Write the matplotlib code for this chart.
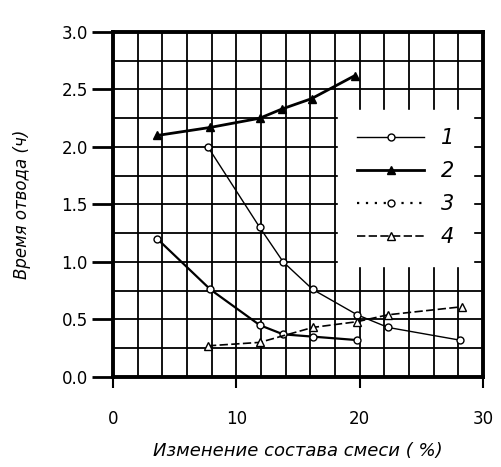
import numpy as np
import matplotlib.pyplot as plt
from matplotlib.ticker import MultipleLocator, FormatStrFormatter

# данные
x1 = [7.7, 11.9, 13.8, 16.2, 19.8, 22.3, 28.1]
y1 = [2.00, 1.30, 1.00, 0.76, 0.54, 0.43, 0.32]

x2 = [3.6, 7.9, 11.9, 13.7, 16.1, 19.6]
y2 = [2.10, 2.17, 2.25, 2.33, 2.42, 2.62]

x3 = [3.6, 7.9, 11.9, 13.8, 16.2, 19.8]
y3 = [1.20, 0.76, 0.45, 0.37, 0.35, 0.32]

x4 = [7.7, 11.9, 16.2, 19.8, 22.3, 28.3]
y4 = [0.27, 0.30, 0.43, 0.48, 0.54, 0.61]

labels = ["1", "2", "3", "4"]

fig = plt.figure(figsize=(5.01, 4.67), dpi=100)
ax = fig.add_axes([0.2255, 0.193, 0.7385, 0.7385])

ax.plot(x1, y1, color="black", lw=1.0, marker="o", ms=5, mfc="white", mec="black", label=labels[0])
ax.plot(x2, y2, color="black", lw=2.0, marker="^", ms=6, mfc="black", mec="black", label=labels[1])
# на скане линия 3 выглядит сплошной, в легенде - пунктир
ax.plot(x3, y3, color="black", lw=1.6, marker="o", ms=5, mfc="white", mec="black")
ax.plot([], [], color="black", lw=1.6, ls=(0, (1, 3)), marker="o", ms=5, mfc="white", mec="black",
        label=labels[2])
ax.plot(x4, y4, color="black", lw=1.2, ls=(0, (5, 2)), marker="^", ms=6, mfc="white", mec="black", label=labels[3])

ax.set_xlim(0, 30)
ax.set_ylim(0, 3.0)
ax.xaxis.set_major_locator(MultipleLocator(10))
ax.xaxis.set_minor_locator(MultipleLocator(2))
ax.yaxis.set_major_locator(MultipleLocator(0.5))
ax.yaxis.set_minor_locator(MultipleLocator(0.25))
ax.yaxis.set_major_formatter(FormatStrFormatter("%.1f"))
ax.grid(True, which="both", color="black", lw=1.3)
ax.set_axisbelow(True)

ax.tick_params(axis="both", which="minor", length=0)
ax.tick_params(axis="y", which="major", length=15, width=2, labelsize=12, pad=3)
ax.tick_params(axis="x", which="major", length=8, width=1.5, labelsize=12, pad=16)

for side in ["left", "top", "right", "bottom"]:
    ax.spines[side].set_linewidth(2.8)

ax.set_xlabel("Изменение состава смеси ( %)", fontsize=13, style="italic", labelpad=10)
ax.set_ylabel("Время отвода (ч)", fontsize=12, style="italic", labelpad=22)

leg = ax.legend(loc="upper right", bbox_to_anchor=(1.0, 0.805), fontsize=15, handlelength=3.2,
                frameon=True, fancybox=False, framealpha=1, borderpad=0.9, labelspacing=0.62,
                prop={"style": "italic", "size": 15})
leg.get_frame().set_edgecolor("white")
leg.get_frame().set_facecolor("white")

fig.savefig("out.png", dpi=100)
